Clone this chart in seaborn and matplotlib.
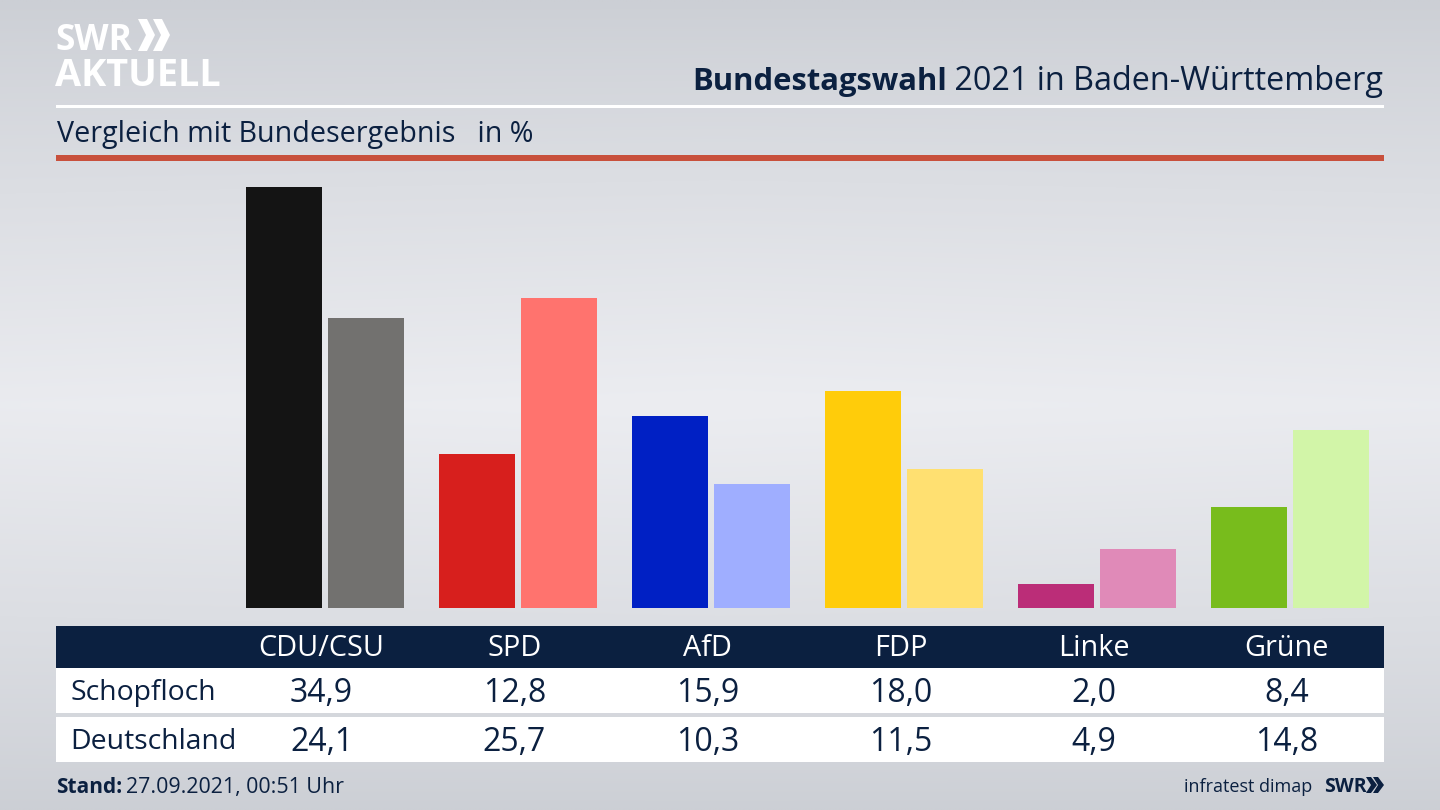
import numpy as np
import pandas as pd
import matplotlib
matplotlib.use("Agg")
import matplotlib.pyplot as plt
from matplotlib.patches import Rectangle, Polygon
import seaborn as sns

parties = ["CDU/CSU", "SPD", "AfD", "FDP", "Linke", "Grüne"]
schopfloch = [34.9, 12.8, 15.9, 18.0, 2.0, 8.4]
deutschland = [24.1, 25.7, 10.3, 11.5, 4.9, 14.8]
dark_colors = ["#141414", "#d71f1d", "#0020c4", "#ffcc0a", "#bb2d78", "#78bc1c"]
light_colors = ["#72716f", "#ff736e", "#9faeff", "#ffe071", "#e08ab8", "#d2f5a8"]
row_names = ["Schopfloch", "Deutschland"]
title_bold = "Bundestagswahl"
title_rest = " 2021 in Baden-Württemberg"
subtitle = "Vergleich mit Bundesergebnis   in %"
stand_bold = "Stand:"
stand_rest = "27.09.2021, 00:51 Uhr"
source = "infratest dimap"

NAVY = "#0b2040"
sns.set_theme(style="white")
plt.rcParams["font.family"] = ["Open Sans", "DejaVu Sans"]

W, H = 1440, 810
fig = plt.figure(figsize=(W / 100, H / 100), dpi=100)

# background gradient + decoration layer in pixel coordinates
bg = fig.add_axes([0, 0, 1, 1], zorder=0)
bg.axis("off")
yy = np.linspace(0, 1, 200)
xx = np.linspace(0, 1, 300)
X, Y = np.meshgrid(xx, yy)
t = np.clip(1 - np.abs(Y - 0.5) / 0.5, 0, 1) ** 0.85
t = t * (1 - 0.06 * np.abs(X - 0.5) * 2)
c0 = np.array([0xcc, 0xcf, 0xd5]) / 255
c1 = np.array([0xec, 0xed, 0xf1]) / 255
img = c0[None, None, :] + t[..., None] * (c1 - c0)[None, None, :]
bg.imshow(img, extent=(0, W, H, 0), aspect="auto", interpolation="bilinear", zorder=0)
bg.set_xlim(0, W)
bg.set_ylim(H, 0)

# header rules
bg.add_patch(Rectangle((56, 104.5), 1328, 3, color="white", lw=0, zorder=1))
bg.add_patch(Rectangle((56, 155), 1328, 5.5, color="#c8503c", lw=0, zorder=1))

# logo
bg.text(55, 50, "SWR", color="white", fontsize=25.5, fontweight="bold", family="Open Sans", zorder=2)
bg.text(55, 86.5, "AKTUELL", color="white", fontsize=27.3, fontweight="bold", family="Open Sans", zorder=2)
for dx in (0, 15):
    bg.add_patch(Polygon([(138 + dx, 19), (147 + dx, 19), (155 + dx, 35), (147 + dx, 51), (138 + dx, 51), (146 + dx, 35)],
                         closed=True, color="white", lw=0, zorder=2))

# titles
tr = bg.text(1383, 90, title_rest, color=NAVY, fontsize=23.3, ha="right", zorder=2)
fig.canvas.draw()
inv = bg.transData.inverted()
x0 = inv.transform(tr.get_window_extent().get_points())[0, 0]
bg.text(x0 + 1, 90, title_bold, color=NAVY, fontsize=22.3, fontweight="bold", ha="right", zorder=2)
bg.text(57, 142, subtitle, color=NAVY, fontsize=20.65, zorder=2)

# table
bg.add_patch(Rectangle((56, 626), 1328, 42, color=NAVY, lw=0, zorder=1))
bg.add_patch(Rectangle((56, 668), 1328, 45, color="white", lw=0, zorder=1))
bg.add_patch(Rectangle((56, 717), 1328, 45, color="white", lw=0, zorder=1))
for i, name in enumerate(parties):
    cx = 321.5 + 193 * i
    bg.text(cx, 649, name, color="white", fontsize=20.8, ha="center", va="center", zorder=2)
    bg.text(cx, 693.5, f"{schopfloch[i]:.1f}".replace(".", ","), color=NAVY, fontsize=23, ha="center", va="center", zorder=2)
    bg.text(cx, 742.5, f"{deutschland[i]:.1f}".replace(".", ","), color=NAVY, fontsize=23, ha="center", va="center", zorder=2)
bg.text(70, 693, row_names[0], color=NAVY, fontsize=20.4, va="center", zorder=2)
bg.text(70, 742, row_names[1], color=NAVY, fontsize=20.4, va="center", zorder=2)

# footer
bg.text(56, 793, stand_bold, color=NAVY, fontsize=15, fontweight="bold", zorder=2)
bg.text(126, 793, stand_rest, color=NAVY, fontsize=15.4, zorder=2)
bg.text(1312, 792, source, color=NAVY, fontsize=13, ha="right", zorder=2)
bg.text(1324, 792, "SWR", color=NAVY, fontsize=14, fontweight="bold", zorder=2)
for dx in (0, 7):
    bg.add_patch(Polygon([(1366 + dx, 777), (1371 + dx, 777), (1377 + dx, 785), (1371 + dx, 793), (1366 + dx, 793), (1371 + dx, 785)],
                         closed=True, color=NAVY, lw=0, zorder=2))

# bars
df = pd.DataFrame({
    "Partei": parties * 2,
    "Gebiet": [row_names[0]] * 6 + [row_names[1]] * 6,
    "Wert": schopfloch + deutschland,
})
left, right = 228.5, 1386.5
base, top = 608, 608 - 35 * 12.05
ax = fig.add_axes([left / W, 1 - base / H, (right - left) / W, (base - top) / H], zorder=1)
sns.barplot(data=df, x="Partei", y="Wert", hue="Gebiet", order=parties, hue_order=row_names,
            width=0.85, gap=0.065, dodge=True, legend=False, ax=ax, errorbar=None, saturation=1)
for container, cols in zip(ax.containers, (dark_colors, light_colors)):
    for bar, col in zip(container, cols):
        bar.set_facecolor(col)
        bar.set_edgecolor("none")
ax.set_xlim(-0.5, 5.5)
ax.set_ylim(0, 35)
ax.axis("off")
ax.patch.set_alpha(0)

fig.savefig("out.png", dpi=100)
